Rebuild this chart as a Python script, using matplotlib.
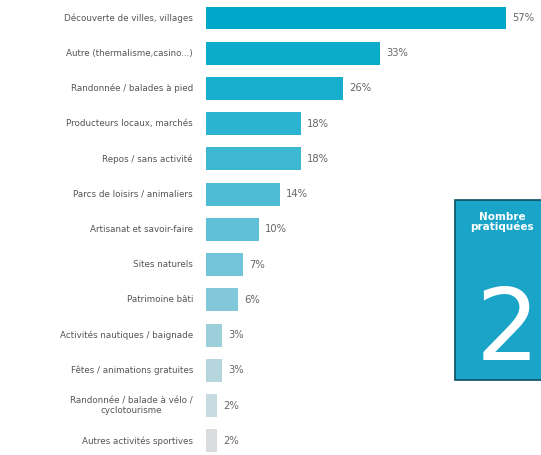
import matplotlib.pyplot as plt
from matplotlib.patches import Rectangle

activites = [
    "Découverte de villes, villages",
    "Autre (thermalisme,casino...)",
    "Randonnée / balades à pied",
    "Producteurs locaux, marchés",
    "Repos / sans activité",
    "Parcs de loisirs / animaliers",
    "Artisanat et savoir-faire",
    "Sites naturels",
    "Patrimoine bâti",
    "Activités nautiques / baignade",
    "Fêtes / animations gratuites",
    "Randonnée / balade à vélo /\ncyclotourisme",
    "Autres activités sportives",
]
valeurs = [57, 33, 26, 18, 18, 14, 10, 7, 6, 3, 3, 2, 2]
couleurs = ["#00a7c9", "#0aabcb", "#18afcf", "#2ab4d1", "#3cb8d3", "#4fbcd5",
            "#60c0d7", "#73c4d9", "#82c8da", "#9dcfdb", "#b5d6dd", "#c6dadf", "#d9dcdd"]

nombre = "2"

fig = plt.figure(figsize=(5.41, 4.55), dpi=100)
ax = fig.add_axes([0.381, 0.0, 0.619, 1.0])

y = list(range(len(valeurs)))
ax.barh(y, valeurs, height=0.65, color=couleurs)
for yi, v in zip(y, valeurs):
    ax.text(v + 1.2, yi, f"{v}%", va="center", ha="left", fontsize=7.2, color="#666666")

ax.set_xlim(0, 63.7)
ax.set_ylim(12.40, -0.51)
ax.axis("off")

# category labels, right aligned left of the bars
for yi, lab in zip(y, activites):
    fig.text(193 / 541, 1 - (18 + yi * 35.25) / 455, lab, ha="right", va="center",
             fontsize=6.3, color="#555555", multialignment="center", linespacing=1.1)

# side panel
fig.patches.append(Rectangle((455 / 541, 1 - 380 / 455), 0.2, 180 / 455,
                             transform=fig.transFigure, facecolor="#1aa5c8",
                             edgecolor="#0b4f63", linewidth=1.2))
fig.text(502 / 541, 1 - 222 / 455, "Nombre\npratiquées", ha="center", va="center",
         fontsize=7.5, color="white", fontweight="bold", linespacing=0.95)
fig.text(507 / 541, 1 - 332 / 455, nombre, ha="center", va="center",
         fontsize=72, color="white")

fig.savefig("out.png", dpi=100)
